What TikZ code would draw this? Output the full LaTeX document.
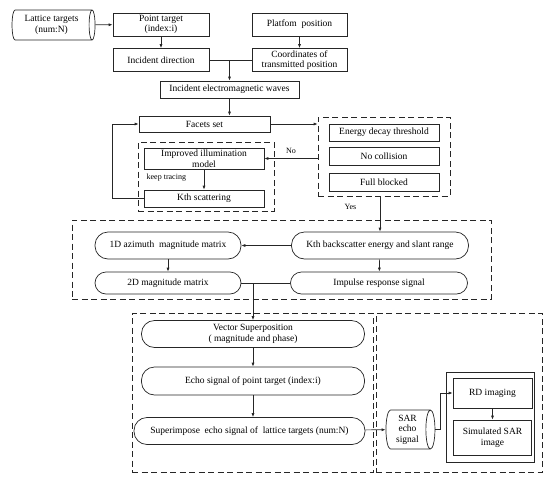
\documentclass[tikz,border=0pt]{standalone}
\usepackage{fontspec}
\setmainfont{Liberation Serif}
\usepackage{tikz}
\usetikzlibrary{positioning, arrows.meta, shapes.geometric, calc}
\usepackage{xcolor}
\definecolor{LineGray}{HTML}{262626}

\begin{document}
\begin{tikzpicture}[x=1pt, y=-1pt, line width=0.7pt, draw=LineGray,
    font=\fontsize{9.5pt}{10.5pt}\selectfont,
    stepbox/.style={draw, rectangle, inner sep=0.5pt, align=center},
    pillbox/.style={draw, rectangle, rounded corners=11pt, inner sep=0.5pt, align=center},
    tank/.style={draw, cylinder, shape border rotate=0, aspect=0.3, inner sep=0.5pt, align=center},
    group/.style={draw, dash pattern=on 6pt off 3.5pt, rectangle, inner sep=0pt},
    arr/.style={-{Latex[length=4pt, width=3pt]}}]
  \useasboundingbox (0,0) rectangle (550,480);

  % groups
  \node[group, minimum width=132pt, minimum height=79pt] (cond) at (384,156.5) {};
  \node[group, minimum width=136pt, minimum height=69pt] (illum) at (206,176.5) {};
  \node[group, minimum width=419pt, minimum height=79pt] (scatter) at (281.5,259.5) {};
  \node[group, minimum width=241pt, minimum height=159pt] (echo) at (252.5,392.5) {};
  \node[group, minimum width=166pt, minimum height=159pt] (image) at (459,392.5) {};
  \node[stepbox, minimum width=88pt, minimum height=90pt] (imgbox) at (490,417) {};

  % top
  \node[tank, minimum height=83pt, minimum width=30pt] (lattice) at (51.5,25) {Lattice targets\\(num:N)};
  \node[stepbox, minimum width=96pt, minimum height=23pt] (pointT) at (161,24.5) {Point target\\(index:i)};
  \node[stepbox, minimum width=96pt, minimum height=23pt] (incDir) at (161,60) {Incident direction};
  \node[stepbox, minimum width=95pt, minimum height=23pt] (platform) at (299.5,24.5) {Platfom\ \ position};
  \node[stepbox, minimum width=95pt, minimum height=23pt] (coords) at (299.5,60) {Coordinates of\\transmitted position};
  \node[stepbox, minimum width=139pt, minimum height=17pt] (incEM) at (229.5,89.5) {Incident electromagnetic waves};
  \node[stepbox, minimum width=131pt, minimum height=16pt] (facets) at (204.5,124) {Facets set};

  \node[stepbox, minimum width=110pt, minimum height=17pt] (energy) at (384,132.5) {Energy decay threshold};
  \node[stepbox, minimum width=110pt, minimum height=18pt] (nocoll) at (384,156) {No collision};
  \node[stepbox, minimum width=110pt, minimum height=18pt] (full) at (384,182) {Full blocked};

  \node[stepbox, minimum width=120pt, minimum height=21pt] (improved) at (204,158.5) {Improved illumination\\model};
  \node[stepbox, minimum width=120pt, minimum height=17pt] (kth) at (204,198.5) {Kth scattering};
  \node[anchor=west, font=\fontsize{8pt}{9pt}\selectfont] (keep) at (143,178) {keep tracing};

  % scattering group
  \node[pillbox, minimum width=146pt, minimum height=27pt, rounded corners=13pt] (az1d) at (168,245.5) {1D azimuth\ \ magnitude matrix};
  \node[pillbox, minimum width=177pt, minimum height=27pt, rounded corners=13pt] (kthBack) at (380,245.5) {Kth backscatter energy and slant range};
  \node[pillbox, minimum width=146pt, minimum height=22pt] (mag2d) at (168,283) {2D magnitude matrix};
  \node[pillbox, minimum width=177pt, minimum height=22pt] (impulse) at (379,283) {Impulse response signal};

  % echo group
  \node[pillbox, minimum width=223pt, minimum height=27pt, rounded corners=13pt] (vector) at (253,334) {Vector Superposition\\( magnitude and phase)};
  \node[pillbox, minimum width=223pt, minimum height=28pt, rounded corners=13pt] (echoPt) at (253,381) {Echo signal of point target (index:i)};
  \node[pillbox, minimum width=231pt, minimum height=27pt, rounded corners=13pt] (superimp) at (249.5,431) {Superimpose\ \ echo signal of\ \ lattice targets (num:N)};
  \node[tank, minimum height=49pt, minimum width=39pt] (sar) at (407.5,429.5) {SAR\\echo\\signal};
  \node[stepbox, minimum width=79pt, minimum height=30pt] (rd) at (492.5,393) {RD imaging};
  \node[stepbox, minimum width=78pt, minimum height=35pt] (sim) at (492.5,437.5) {Simulated SAR\\image};

  \coordinate (j1) at (incEM.north |- incDir.east);
  \coordinate (j2) at (vector.north |- mag2d.east);

  \draw[arr] (lattice) -- (pointT);
  \draw[arr] (pointT) -- (incDir);
  \draw[arr] (platform) -- (coords);
  \draw (incDir) -- (coords);
  \draw[arr] (j1) -- (incEM.north);
  \draw[arr] (incEM.south) -- (incEM.south |- facets.north);
  \draw[arr] (facets.east) -- (facets.east -| cond.west);
  \draw[arr] (improved.east -| cond.west) -- node[above=1pt, pos=0.5, font=\fontsize{8pt}{9pt}\selectfont] (no) {No} (improved.east);
  \draw[arr] (improved) -- (kth);
  \draw[arr] (kth.west) -- ++(-31,0) |- (facets.west);
  \draw[arr] (cond.south -| kthBack.north) -- node[left=20pt, pos=0.3, font=\fontsize{8pt}{9pt}\selectfont] (yes) {Yes} (kthBack.north);
  \draw[arr] (kthBack) -- (az1d);
  \draw[arr] (az1d) -- (mag2d);
  \draw[arr] (kthBack) -- (impulse);
  \draw (mag2d) -- (impulse);
  \draw[arr] (j2) -- (vector.north);
  \draw[arr] (vector) -- (echoPt);
  \draw[arr] (echoPt.south) -- (echoPt.south |- superimp.north);
  \draw[arr] (superimp) -- (sar);
  \draw[arr] (sar.east) -- ++(5,0) |- (rd.west);
  \draw[arr] (rd) -- (sim);
\end{tikzpicture}
\end{document}
